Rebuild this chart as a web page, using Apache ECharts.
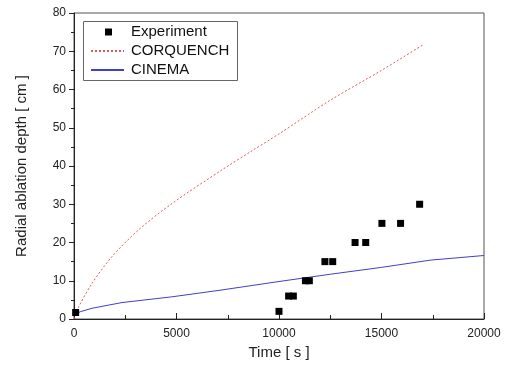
<!DOCTYPE html>
<html>
<head>
<meta charset="utf-8">
<script src="https://cdn.jsdelivr.net/npm/echarts@6/dist/echarts.min.js"></script>
<style>
  html, body { margin: 0; padding: 0; background: #fff; }
  #chart { width: 506px; height: 369px; }
</style>
</head>
<body>
<div id="chart"></div>
<script>
// time [s], depth [cm]
const experiment = [
  [80, 1.7], [10000, 2], [10470, 6], [10700, 6], [11290, 10], [11480, 10],
  [12240, 15], [12620, 15], [13710, 20], [14230, 20], [15020, 25],
  [15930, 25], [16860, 30],
];
const corquench = [
  [0, 0], [230, 3.2], [880, 9.3], [1850, 16.3], [3150, 23.3], [4780, 30.2],
  [7220, 39.0], [8600, 43.7], [10000, 48.4], [12500, 57.2], [15000, 65.0],
  [17000, 71.6],
];
const cinema = [
  [0, 0.9], [300, 1.9], [880, 2.8], [2340, 4.3], [4780, 5.8], [7220, 7.6], [10000, 9.8],
  [12500, 11.7], [15000, 13.5], [17400, 15.4], [20000, 16.6],
];
const xTicks = { min: 0, max: 20000, interval: 5000 };
const yTicks = { min: 0, max: 80, interval: 10 };

const font = "Liberation Sans, Arial, sans-serif";
const chart = echarts.init(document.getElementById("chart"));

chart.setOption({
  animation: false,
  backgroundColor: "#fff",
  textStyle: { fontFamily: font },
  grid: {
    left: 74, right: 22, top: 13, bottom: 50,
    show: true, borderColor: "#555", borderWidth: 1, backgroundColor: "transparent",
  },
  legend: [
    {
      data: ["Experiment"],
      orient: "vertical",
      left: 105, top: 22.5, padding: 0,
      itemWidth: 7, itemHeight: 7,
      textStyle: { fontFamily: font, fontSize: 15, color: "#111", lineHeight: 19, padding: [0, 0, 0, 14] },
    },
    {
      data: ["CORQUENCH", "CINEMA"],
      orient: "vertical",
      left: 90, top: 41.5, padding: 0, itemGap: 0,
      itemWidth: 33, itemHeight: 10,
      itemStyle: { color: "transparent", borderWidth: 0, opacity: 0 },
      textStyle: { fontFamily: font, fontSize: 15, color: "#111", lineHeight: 19, padding: [0, 0, 0, 2] },
    },
  ],
  graphic: [{
    type: "rect", left: 83, top: 21, z: 0,
    shape: { width: 154, height: 59 },
    style: { fill: "#fff", stroke: "#666", lineWidth: 1 },
  }],
  xAxis: {
    type: "value",
    ...xTicks,
    name: "Time [ s ]",
    nameLocation: "middle",
    nameGap: 26,
    nameTextStyle: { fontFamily: font, fontSize: 15, color: "#222" },
    axisLine: { lineStyle: { color: "#222", width: 1 } },
    axisTick: { inside: true, length: 6, lineStyle: { color: "#222" } },
    minorTick: { show: true, splitNumber: 2, length: 4, lineStyle: { color: "#222" } },
    axisLabel: { fontFamily: font, fontSize: 12, color: "#222", margin: 9, formatter: (v) => String(v) },
    splitLine: { show: false },
  },
  yAxis: {
    type: "value",
    ...yTicks,
    name: "Radial ablation depth [ cm ]",
    nameLocation: "middle",
    nameGap: 45,
    nameTextStyle: { fontFamily: font, fontSize: 15, color: "#222" },
    axisLine: { show: true, lineStyle: { color: "#222", width: 1 } },
    axisTick: { show: true, inside: false, length: 5, lineStyle: { color: "#222" } },
    minorTick: { show: true, splitNumber: 2, length: 3, lineStyle: { color: "#222" } },
    axisLabel: { fontFamily: font, fontSize: 12, color: "#222", margin: 8 },
    splitLine: { show: false },
  },
  series: [
    {
      name: "Experiment",
      type: "scatter",
      data: experiment,
      symbol: "rect",
      symbolSize: 7,
      itemStyle: { color: "#000", opacity: 1 },
      z: 5,
    },
    {
      name: "CORQUENCH",
      type: "line",
      data: corquench,
      smooth: 0.3,
      symbol: "none",
      lineStyle: { color: "#e05a5a", width: 1, type: [2, 2] },
      itemStyle: { color: "#e05a5a" },
    },
    {
      name: "CINEMA",
      type: "line",
      data: cinema,
      smooth: false,
      symbol: "none",
      lineStyle: { color: "#4040cc", width: 1 },
      itemStyle: { color: "#4040cc" },
    },
  ],
});
</script>
</body>
</html>
